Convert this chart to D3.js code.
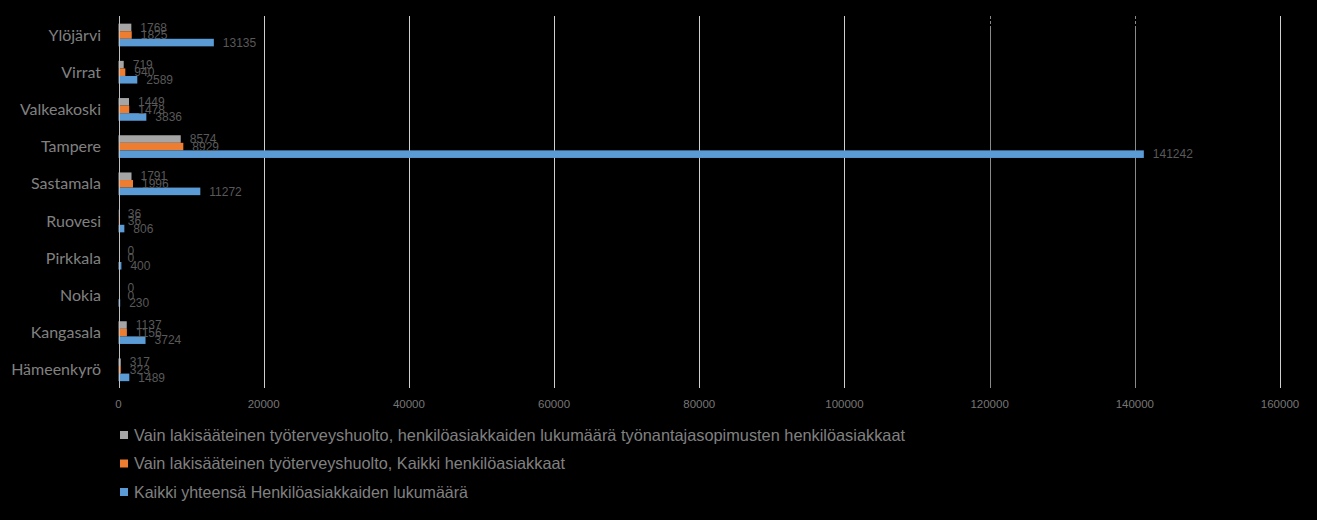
<!DOCTYPE html>
<html>
<head>
<meta charset="utf-8">
<script src="https://cdn.jsdelivr.net/npm/d3@7"></script>
<style>
    body { margin: 0; background: #000; }
    svg { display: block; }
</style>
</head>
<body>
<div id="chart"></div>
<script>
// categories from top to bottom
const cities = ['Ylöjärvi', 'Virrat', 'Valkeakoski', 'Tampere', 'Sastamala', 'Ruovesi', 'Pirkkala', 'Nokia', 'Kangasala', 'Hämeenkyrö'];

const seriesNames = [
    'Vain lakisääteinen työterveyshuolto, henkilöasiakkaiden lukumäärä työnantajasopimusten henkilöasiakkaat',
    'Vain lakisääteinen työterveyshuolto, Kaikki henkilöasiakkaat',
    'Kaikki yhteensä Henkilöasiakkaiden lukumäärä'
];
const seriesColors = ['#a5a5a5', '#ed7d31', '#5b9bd5'];

const employerContract = [1768, 719, 1449, 8574, 1791, 36, 0, 0, 1137, 317];
const allStatutory = [1825, 940, 1478, 8929, 1996, 36, 0, 0, 1156, 323];
const totalClients = [13135, 2589, 3836, 141242, 11272, 806, 400, 230, 3724, 1489];

const xTicks = [0, 20000, 40000, 60000, 80000, 100000, 120000, 140000, 160000];

const seriesValues = [employerContract, allStatutory, totalClients];

const width = 1317, height = 520;
const margin = { top: 16.4, right: 37, bottom: 131.6, left: 118.5 };

const svg = d3.select('#chart').append('svg')
    .attr('width', width)
    .attr('height', height);

svg.append('rect')
    .attr('width', width)
    .attr('height', height)
    .attr('fill', '#000');

const x = d3.scaleLinear()
    .domain([0, 160000])
    .range([margin.left, width - margin.right]);

const y = d3.scaleBand()
    .domain(cities)
    .range([margin.top, height - margin.bottom])
    .paddingInner(0.39)
    .paddingOuter(0.195);

const ySub = d3.scaleBand()
    .domain(d3.range(seriesNames.length))
    .range([0, y.bandwidth()]);

const plotTop = 16, plotBottom = 388;

// vertical gridlines (the two on the right are drawn darker, with a broken top end)
const grid = svg.append('g');
const darkGrid = d => d >= 120000 && d < 160000;

grid.selectAll('line.solid')
    .data(xTicks.slice(1))
    .join('line')
    .attr('class', 'solid')
    .attr('x1', d => Math.round(x(d)) + 0.5)
    .attr('x2', d => Math.round(x(d)) + 0.5)
    .attr('y1', d => darkGrid(d) ? 29 : plotTop)
    .attr('y2', plotBottom)
    .attr('stroke', d => darkGrid(d) ? '#8a8a8a' : '#cfcfcf')
    .attr('stroke-width', 1);

grid.selectAll('line.dash')
    .data(xTicks.filter(darkGrid))
    .join('line')
    .attr('class', 'dash')
    .attr('x1', d => Math.round(x(d)) + 0.5)
    .attr('x2', d => Math.round(x(d)) + 0.5)
    .attr('y1', plotTop)
    .attr('y2', 29)
    .attr('stroke', '#8a8a8a')
    .attr('stroke-dasharray', '3,2');

// bars
const groups = svg.append('g').attr('class', 'bars')
    .selectAll('g')
    .data(cities)
    .join('g')
    .attr('transform', d => `translate(0,${y(d)})`);

groups.selectAll('rect')
    .data((c, i) => seriesValues.map((vals, s) => ({ s, v: vals[i] })))
    .join('rect')
    .attr('x', x(0))
    .attr('y', d => ySub(d.s))
    .attr('width', d => x(d.v) - x(0))
    .attr('height', ySub.bandwidth())
    .attr('fill', d => seriesColors[d.s]);

// data labels
groups.selectAll('text')
    .data((c, i) => seriesValues.map((vals, s) => ({ s, v: vals[i] })))
    .join('text')
    .attr('x', d => x(d.v) + 9)
    .attr('y', d => ySub(d.s) + ySub.bandwidth() / 2)
    .attr('dy', '0.35em')
    .attr('fill', '#595959')
    .style('font-family', '"Liberation Sans", sans-serif')
    .style('font-size', '12px')
    .text(d => d.v);

// value axis line at zero
svg.append('line')
    .attr('x1', Math.round(x(0)) + 0.5)
    .attr('x2', Math.round(x(0)) + 0.5)
    .attr('y1', plotTop)
    .attr('y2', plotBottom)
    .attr('stroke', '#bfbfbf');

// category labels
svg.append('g')
    .selectAll('text')
    .data(cities)
    .join('text')
    .attr('x', 101)
    .attr('y', d => y(d) + y.bandwidth() / 2)
    .attr('dy', '0.35em')
    .attr('text-anchor', 'end')
    .attr('fill', '#808080')
    .style('font-family', 'Lato, "Liberation Sans", sans-serif')
    .style('font-size', '16px')
    .text(d => d);

// x tick labels
svg.append('g')
    .selectAll('text')
    .data(xTicks)
    .join('text')
    .attr('x', d => x(d))
    .attr('y', 404)
    .attr('dy', '0.35em')
    .attr('text-anchor', 'middle')
    .attr('fill', '#767676')
    .style('font-family', '"Liberation Sans", sans-serif')
    .style('font-size', '11.5px')
    .text(d => d);

// legend
const legendWidths = [771, 431, 334];
const legend = svg.append('g')
    .attr('transform', 'translate(120,435)')
    .selectAll('g')
    .data(seriesNames)
    .join('g')
    .attr('transform', (d, i) => `translate(0,${i * 28.5})`);

legend.append('rect')
    .attr('x', 0)
    .attr('y', -4)
    .attr('width', 8)
    .attr('height', 8)
    .attr('fill', (d, i) => seriesColors[i]);

legend.append('text')
    .attr('x', 14)
    .attr('y', 0)
    .attr('dy', '0.35em')
    .attr('fill', '#808080')
    .attr('textLength', (d, i) => legendWidths[i])
    .attr('lengthAdjust', 'spacingAndGlyphs')
    .style('font-family', '"Liberation Sans", sans-serif')
    .style('font-size', '16.5px')
    .text(d => d);
</script>
</body>
</html>
